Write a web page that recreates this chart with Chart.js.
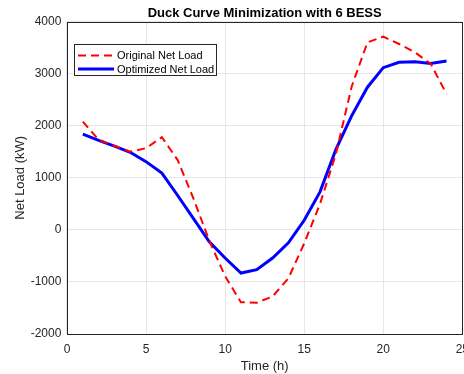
<!DOCTYPE html>
<html>
<head>
<meta charset="utf-8">
<script src="https://cdn.jsdelivr.net/npm/chart.js@4.4.1/dist/chart.umd.min.js"></script>
<style>
  html, body { margin: 0; padding: 0; background: #fff; overflow: hidden; }
  canvas { display: block; }
</style>
</head>
<body>
<canvas id="myChart" width="477" height="374"></canvas>
<script>
// hours of the day
var hours = [1, 2, 3, 4, 5, 6, 7, 8, 9, 10, 11, 12, 13, 14, 15, 16, 17, 18, 19, 20, 21, 22, 23, 24];
// net load, kW
var originalLoad = [2080, 1730, 1610, 1500, 1570, 1780, 1340, 600, -210, -890, -1390, -1400,
                    -1280, -930, -260, 500, 1450, 2750, 3600, 3710, 3570, 3410, 3190, 2610];
var optimizedLoad = [1840, 1720, 1610, 1490, 1310, 1090, 660, 215, -230, -540, -830, -765,
                     -540, -250, 185, 730, 1540, 2190, 2740, 3115, 3220, 3230, 3195, 3245];
var xTicks = [0, 5, 10, 15, 20, 25];
var yTicks = [-2000, -1000, 0, 1000, 2000, 3000, 4000];

function pts(vals) {
  return hours.map(function(h, i) { return {x: h, y: vals[i]}; });
}

var font = "'Liberation Sans', Arial, Helvetica, sans-serif";
Chart.defaults.font.family = font;

// matlab style box + legend inside the axes
var boxPlugin = {
  id: 'boxLegend',
  afterDraw: function(chart) {
    var ctx = chart.ctx, a = chart.chartArea;
    ctx.save();
    ctx.strokeStyle = '#262626';
    ctx.lineWidth = 1;
    ctx.strokeRect(Math.round(a.left) + 0.5, Math.round(a.top) + 0.5,
                   Math.round(a.right - a.left), Math.round(a.bottom - a.top));

    // legend
    var lx = 74.5, ly = 44.5, lw = 142, lh = 31;
    ctx.fillStyle = '#fff';
    ctx.fillRect(lx, ly, lw, lh);
    ctx.strokeStyle = '#262626';
    ctx.strokeRect(lx, ly, lw, lh);
    var rows = [55.5, 69];
    chart.data.datasets.forEach(function(ds, i) {
      ctx.beginPath();
      ctx.setLineDash(ds.borderDash || []);
      ctx.strokeStyle = ds.borderColor;
      ctx.lineWidth = ds.borderWidth;
      ctx.moveTo(78, rows[i]);
      ctx.lineTo(114, rows[i]);
      ctx.stroke();
      ctx.setLineDash([]);
      ctx.fillStyle = '#000';
      ctx.font = '11px ' + font;
      ctx.textBaseline = 'middle';
      ctx.fillText(ds.label, 117, rows[i] + 0.5);
    });
    ctx.restore();
  }
};

var ctx = document.getElementById('myChart').getContext('2d');
var myChart = new Chart(ctx, {
  type: 'line',
  data: {
    datasets: [{
      label: 'Original Net Load',
      data: pts(originalLoad),
      borderColor: '#ff0000',
      borderWidth: 2,
      borderDash: [8, 5],
      pointRadius: 0,
      tension: 0,
      fill: false
    }, {
      label: 'Optimized Net Load',
      data: pts(optimizedLoad),
      borderColor: '#0000ff',
      borderWidth: 3,
      pointRadius: 0,
      tension: 0,
      fill: false
    }]
  },
  options: {
    responsive: false,
    animation: false,
    layout: { padding: { left: 0, right: 0, top: 0, bottom: 0 } },
    plugins: {
      legend: { display: false },
      tooltip: { enabled: false },
      title: {
        display: true,
        fullSize: false,
        text: 'Duck Curve Minimization with 6 BESS',
        color: '#000',
        font: { size: 13, weight: 'bold' },
        padding: { top: 6, bottom: 0 }
      }
    },
    scales: {
      x: {
        type: 'linear',
        min: 0,
        max: 25,
        afterBuildTicks: function(s) { s.ticks = xTicks.map(function(v) { return {value: v}; }); },
        ticks: { color: '#262626', font: { size: 12 }, padding: 8, maxRotation: 0,
                 callback: function(v) { return String(v); } },
        grid: { color: '#e6e6e6', drawTicks: false },
        border: { display: false },
        title: { display: true, text: 'Time (h)', color: '#262626', font: { size: 13 }, padding: { top: -6, bottom: 0 } }
      },
      y: {
        min: -2000,
        max: 4000,
        afterBuildTicks: function(s) { s.ticks = yTicks.map(function(v) { return {value: v}; }); },
        ticks: { color: '#262626', font: { size: 12 }, padding: 5.6,
                 callback: function(v) { return String(v); } },
        grid: { color: '#e6e6e6', drawTicks: false },
        border: { display: false },
        title: { display: true, text: 'Net Load (kW)', color: '#262626', font: { size: 13 }, padding: { top: 13, bottom: -3.5 } }
      }
    }
  },
  plugins: [boxPlugin]
});
</script>
</body>
</html>
